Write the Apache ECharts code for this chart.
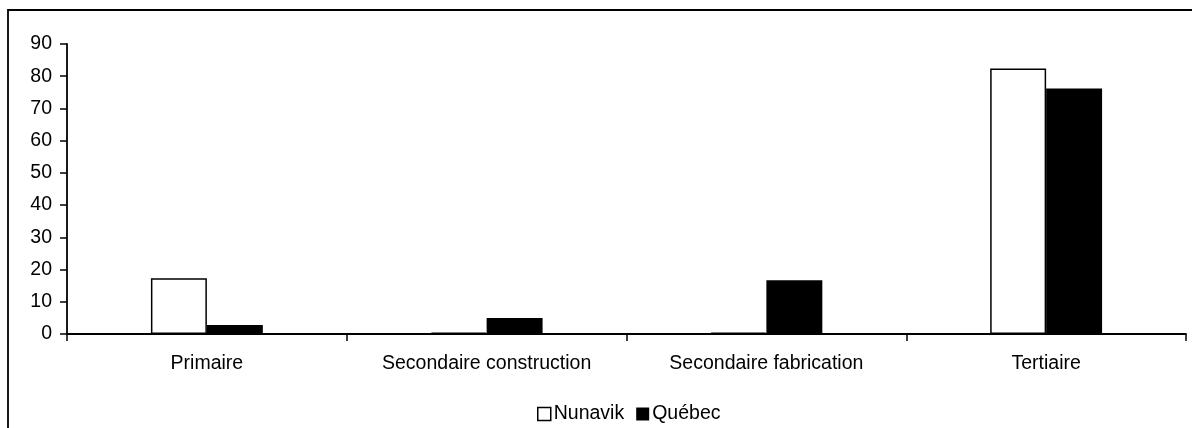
<!DOCTYPE html>
<html>
<head>
<meta charset="utf-8">
<script src="https://cdn.jsdelivr.net/npm/echarts@6/dist/echarts.min.js"></script>
<style>html,body{margin:0;padding:0;background:#fff}#c{width:1192px;height:428px}</style>
</head>
<body>
<div id="c"></div>
<script>
var categories = ['Primaire', 'Secondaire construction', 'Secondaire fabrication', 'Tertiaire'];
var nunavik = [17.3, 0.4, 0.4, 82.4];
var quebec = [2.8, 5.0, 16.7, 76.2];
var yTicks = [0, 10, 20, 30, 40, 50, 60, 70, 80, 90];

var chart = echarts.init(document.getElementById('c'));
var font = 'Liberation Sans, Arial, sans-serif';
chart.setOption({
  animation: false,
  backgroundColor: '#fff',
  graphic: [{
    type: 'rect', z: 100, silent: true,
    shape: { x: 8, y: 10, width: 1250, height: 500 },
    style: { fill: 'none', stroke: '#000', lineWidth: 1.8 }
  }],
  grid: { left: 67, right: 6, top: 44, bottom: 94, containLabel: false },
  legend: {
    top: 399, left: 532,
    itemWidth: 13, itemHeight: 13, itemGap: 12,
    textStyle: { fontFamily: font, fontSize: 19.5, color: '#000', padding: [0, 0, 0, -2] },
    data: [
      { name: 'Nunavik', icon: 'rect', itemStyle: { color: '#fff', borderColor: '#000', borderWidth: 1.5 } },
      { name: 'Québec', icon: 'rect', itemStyle: { color: '#000' } }
    ]
  },
  xAxis: {
    type: 'category', data: categories,
    axisLine: { lineStyle: { color: '#000', width: 1.8 } },
    axisTick: { show: true, alignWithLabel: false, length: 7, lineStyle: { color: '#000', width: 1.5 } },
    axisLabel: { fontFamily: font, fontSize: 19.5, color: '#000', margin: 20 }
  },
  yAxis: {
    type: 'value', min: 0, max: 90, interval: 10,
    axisLine: { show: true, lineStyle: { color: '#000', width: 1.8 } },
    axisTick: { show: true, length: 7, lineStyle: { color: '#000', width: 1.5 } },
    axisLabel: { fontFamily: font, fontSize: 19.5, color: '#000', margin: 15,
      formatter: function (v) { return yTicks.indexOf(v) >= 0 ? String(v) : ''; } },
    splitLine: { show: false }
  },
  series: [
    { name: 'Nunavik', type: 'bar', data: nunavik, barGap: '0%', barCategoryGap: '60%',
      itemStyle: { color: '#fff', borderColor: '#000', borderWidth: 1.5 } },
    { name: 'Québec', type: 'bar', data: quebec, barGap: '0%', barCategoryGap: '60%',
      itemStyle: { color: '#000', borderColor: '#000', borderWidth: 0 } }
  ]
});
</script>
</body>
</html>
